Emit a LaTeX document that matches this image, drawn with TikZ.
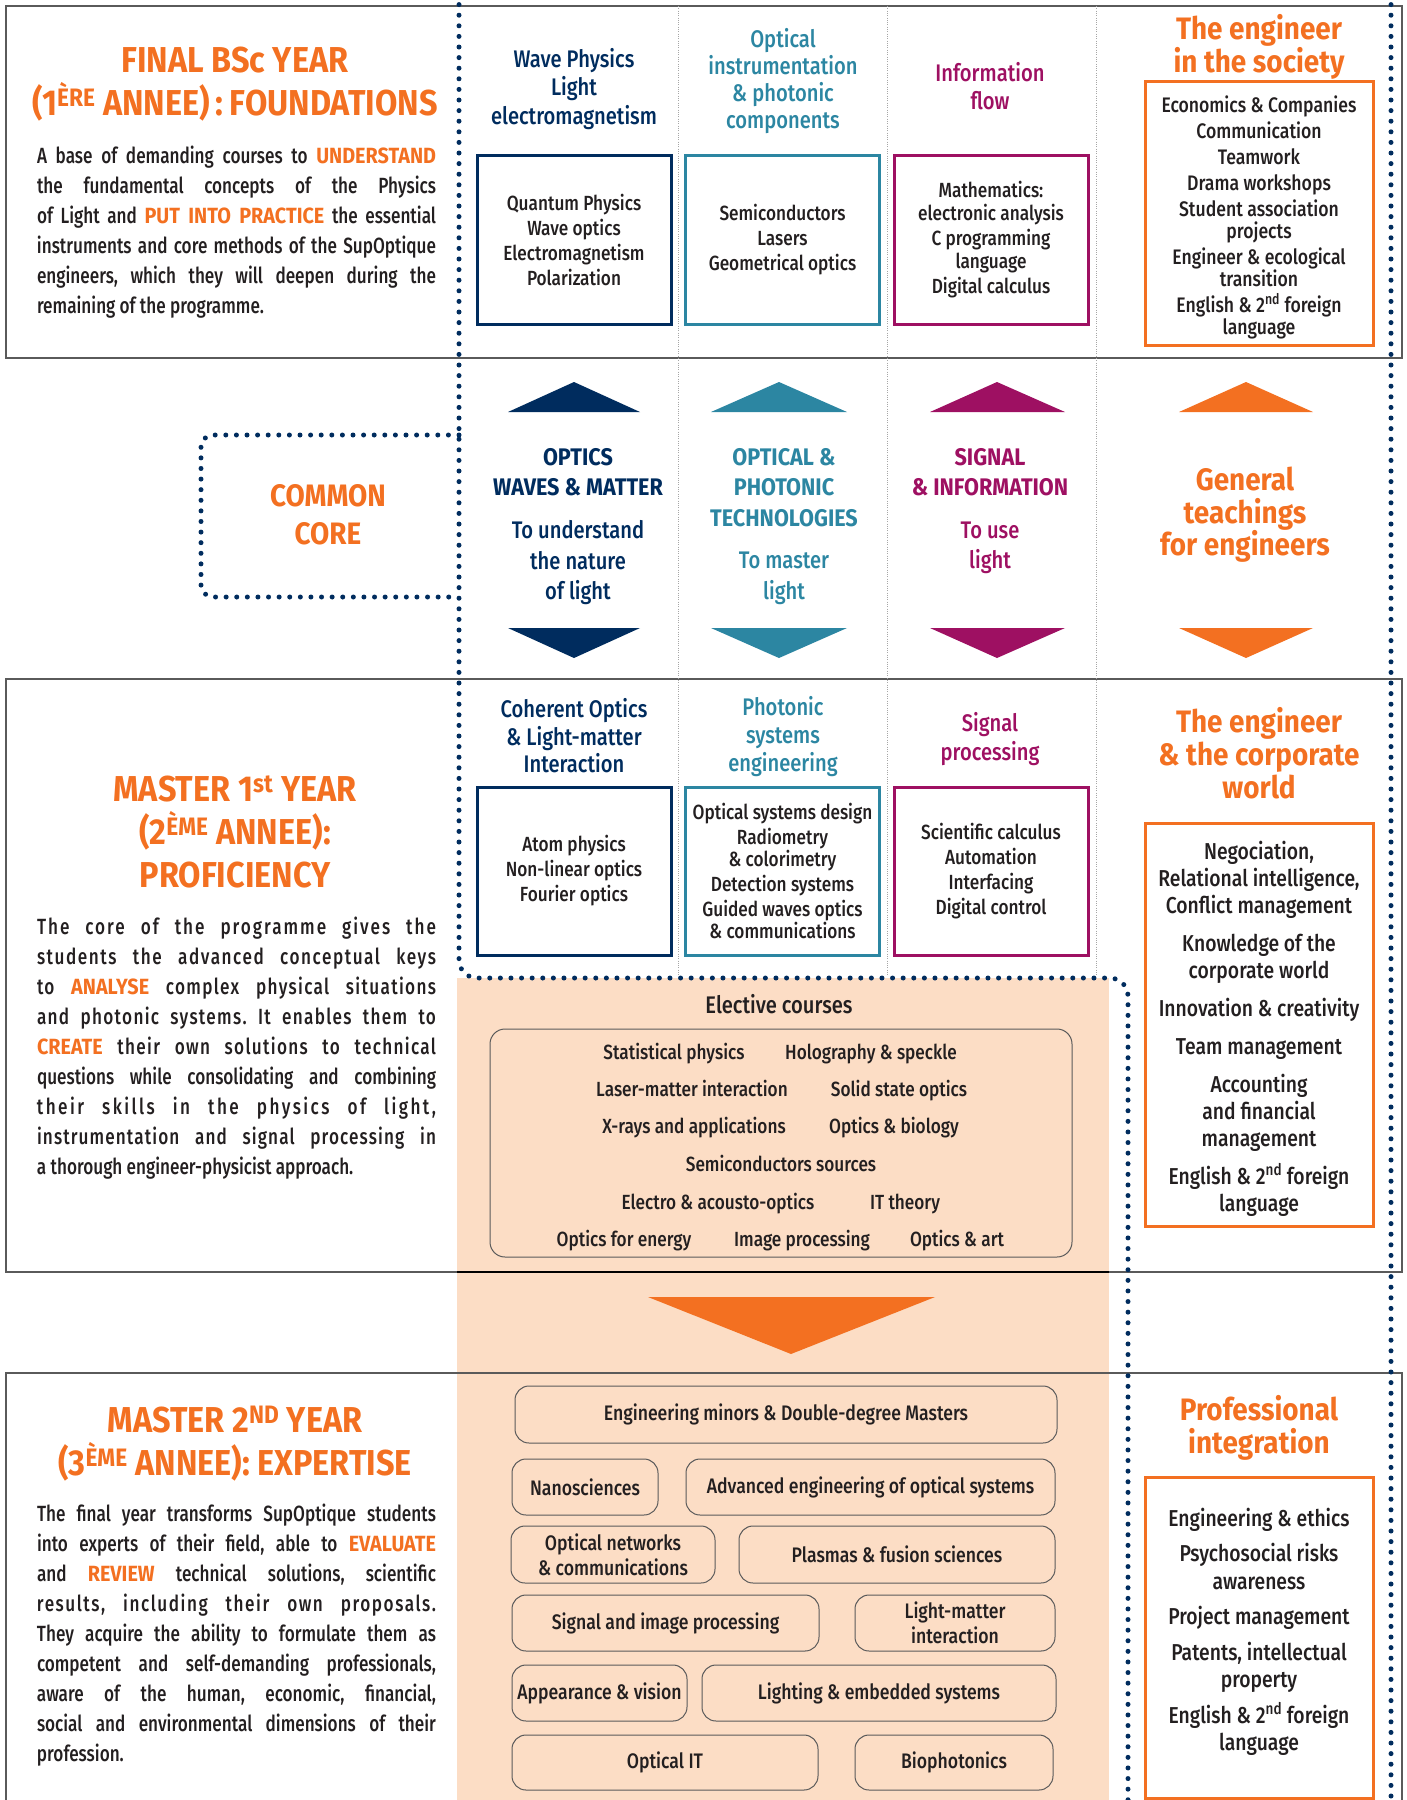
\documentclass[tikz,border=0pt]{standalone}
\usepackage{fontspec}
\setmainfont{Fira Sans}[UprightFont=* Medium, BoldFont=* Bold, FakeStretch=0.84]
\newfontfamily\parafont{Fira Sans}[UprightFont=* Medium, BoldFont=* Bold, FakeStretch=0.78]
\newfontfamily\titlefont{Fira Sans}[BoldFont=* Bold, FakeStretch=0.9]
\definecolor{cNavy}{RGB}{0,44,94}
\definecolor{cTeal}{RGB}{44,134,162}
\definecolor{cMag}{RGB}{158,16,98}
\definecolor{cOrg}{RGB}{243,112,33}
\definecolor{cPeach}{RGB}{252,221,197}
\definecolor{cTxt}{RGB}{35,31,32}
\definecolor{cLine}{RGB}{90,90,90}
\newcommand\fs[2]{\fontsize{#1}{#2}\selectfont}
\newcommand\jl[1]{\makebox[399pt][s]{#1}}
\newcommand\hl[1]{\textcolor{cOrg}{\titlefont\bfseries #1}}
\newcommand\lsp[2]{\makebox[399pt][s]{\addfontfeatures{LetterSpace=#1}#2}}
\begin{document}
\begin{tikzpicture}[x=1pt,y=-1pt,
  every node/.style={inner sep=0pt, outer sep=0pt, text=cTxt},
  sect/.style={draw=cLine, line width=1.3pt},
  colsep/.style={draw=gray!70, line width=0.7pt, dash pattern=on 1pt off 1.3pt},
  bluedots/.style={draw=cNavy, line width=5pt, line cap=round, dash pattern=on 0pt off 10.6pt},
  cbox/.style={draw=#1, line width=3pt, minimum width=194pt, minimum height=169pt, align=center, font=\fs{20.5}{25}},
  obox/.style={draw=cOrg, line width=3pt, minimum width=228pt},
  ebox/.style={draw=cLine, line width=1pt, rounded corners=14pt, align=center, font=\fs{21}{25}},
  ytitle/.style={align=center, text=cOrg, font=\titlefont\fs{36}{43}\bfseries},
  ctitle/.style={align=center, text=cOrg, font=\titlefont\fs{31}{33}\bfseries},
  hdr/.style={align=center, font=\fs{24}{28.5}},
  hdrb/.style={align=center, font=\titlefont\fs{24}{30}\bfseries},
  para/.style={align=left, anchor=north west, font=\parafont\fs{22}{30}\frenchspacing},
  otxt/.style={align=center},
  elec/.style={anchor=base, font=\fs{20.5}{24}},
]
\useasboundingbox (0,0) rectangle (1407,1800);
% peach background
\fill[cPeach] (457,978) rectangle (1109,1800);
% section frames
\draw[sect] (6,6) rectangle (1402,358);
\draw[sect] (6,679) rectangle (1402,1272);
\draw[draw=black, line width=1.6pt] (457,1272) -- (1109,1272);
\draw[sect] (6,1373) rectangle (1402,1812);
% column separators
\foreach \xx in {678,887,1096} \draw[colsep] (\xx,6) -- (\xx,975);
% dotted frames
\draw[bluedots, rounded corners=18pt] (459,-6) -- (459,978) -- (1128,978) -- (1128,1808);
\draw[bluedots, rounded corners=12pt] (459,435) -- (201,435) -- (201,597) -- (459,597);
\draw[bluedots] (1391,-6) -- (1391,1808);

% ---------- FINAL BSc YEAR ----------
\node[ytitle] (t1) at (235,84) {FINAL BSc YEAR\\(1\textsuperscript{ÈRE} ANNEE)\hspace{-2pt} :\hspace{-1pt} FOUNDATIONS};
\node[para] (p1) at (37,146) {\jl{A base of demanding courses to \hl{UNDERSTAND}}\\
\jl{the fundamental concepts of the Physics}\\
\jl{of Light and \hl{PUT INTO PRACTICE} the essential}\\
\jl{instruments and core methods of the SupOptique}\\
\jl{engineers, which they will deepen during the}\\
remaining of the programme.};

\node[hdr, text=cNavy] (h11) at (574,89) {Wave Physics\\Light\\electromagnetism};
\node[hdr, text=cTeal, font=\fs{24}{27}] (h12) at (783,81) {Optical\\instrumentation\\\& photonic\\components};
\node[hdr, text=cMag] (h13) at (990,86) {Information\\flow};
\node[ctitle] (h14) at (1259,47) {The engineer\\in the society};

\node[cbox=cNavy] (b11) at (574,239.5) {Quantum Physics\\Wave optics\\Electromagnetism\\Polarization};
\node[cbox=cTeal] (b12) at (782.5,239.5) {Semiconductors\\Lasers\\Geometrical optics};
\node[cbox=cMag, font=\fs{20.5}{23}] (b13) at (991,239.5) {Mathematics:\\electronic analysis\\[2pt]C programming\\language\\[2pt]Digital calculus};
\node[obox, minimum height=264pt] (b14) at (1259,213) {};
\node[otxt, font=\fs{21}{22}] (b14t) at (1259,217) {Economics \& Companies\\[4pt]Communication\\[4pt]Teamwork\\[4pt]Drama workshops\\[4pt]Student association\\projects\\[4pt]Engineer \& ecological\\transition\\[4pt]English \& 2\textsuperscript{nd} foreign\\language};

% ---------- COMMON CORE ----------
\node[align=center, text=cOrg, font=\titlefont\fs{31}{38}\bfseries] (cc) at (328,515) {COMMON\\CORE};

\fill[cNavy] (508,412) -- (640,412) -- (574,382) -- cycle;
\fill[cNavy] (508,628) -- (640,628) -- (574,658) -- cycle;
\fill[cTeal] (711,412) -- (847,412) -- (779,382) -- cycle;
\fill[cTeal] (711,628) -- (847,628) -- (779,658) -- cycle;
\fill[cMag] (930,412) -- (1065,412) -- (997,382) -- cycle;
\fill[cMag] (930,628) -- (1065,628) -- (997,658) -- cycle;
\fill[cOrg] (1179,412) -- (1313,412) -- (1246,382) -- cycle;
\fill[cOrg] (1179,628) -- (1313,628) -- (1246,658) -- cycle;

\node[hdrb, text=cNavy] (m1a) at (578,472) {OPTICS\\WAVES \& MATTER};
\node[hdr, text=cNavy, font=\fs{24}{30.5}] (m1b) at (578,563) {To understand\\the nature\\of light};
\node[hdrb, text=cTeal, font=\titlefont\fs{24}{30.5}\bfseries] (m2a) at (784,487.5) {OPTICAL \&\\PHOTONIC\\TECHNOLOGIES};
\node[hdr, text=cTeal, font=\fs{24}{31}] (m2b) at (784,578) {To master\\light};
\node[hdrb, text=cMag] (m3a) at (990,472) {SIGNAL\\\& INFORMATION};
\node[hdr, text=cMag, font=\fs{24}{30}] (m3b) at (990,548) {To use\\light};
\node[ctitle, font=\titlefont\fs{31}{32.5}\bfseries] (m4) at (1245,515) {General\\teachings\\for engineers};

% ---------- MASTER 1st YEAR ----------
\node[ytitle] (t2) at (235,832) {MASTER 1\textsuperscript{st} YEAR\\(2\textsuperscript{ÈME} ANNEE):\\PROFICIENCY};
\node[para] (p2) at (37,917) {\lsp{9}{The core of the programme gives the}\\
\lsp{7}{students the advanced conceptual keys}\\
\lsp{6}{to \hl{ANALYSE} complex physical situations}\\
\lsp{6}{and photonic systems. It enables them to}\\
\lsp{6}{\hl{CREATE} their own solutions to technical}\\
\jl{questions while consolidating and combining}\\
\lsp{11}{their skills in the physics of light,}\\
\lsp{5}{instrumentation and signal processing in}\\
a thorough engineer-physicist approach.};

\node[hdr, text=cNavy, font=\fs{24}{27.5}] (h21) at (574,736) {Coherent Optics\\\& Light-matter\\Interaction};
\node[hdr, text=cTeal, font=\fs{24}{28}] (h22) at (783,737) {Photonic\\systems\\engineering};
\node[hdr, text=cMag] (h23) at (990,739) {Signal\\processing};
\node[ctitle] (h24) at (1259,753) {The engineer\\\& the corporate\\world};

\node[cbox=cNavy, minimum height=168pt] (b21) at (574,871) {Atom physics\\Non-linear optics\\Fourier optics};
\node[cbox=cTeal, minimum height=168pt, font=\fs{20.5}{22}] (b22) at (782.5,871) {Optical systems design\\[3pt]Radiometry\\\& colorimetry\\[3pt]Detection systems\\[3pt]Guided waves optics\\\& communications};
\node[cbox=cMag, minimum height=168pt] (b23) at (991,871) {Scientific calculus\\Automation\\Interfacing\\Digital control};
\node[obox, minimum height=403pt] (b24) at (1259,1024.5) {};
\node[otxt, font=\fs{23}{27}] (b24t) at (1259,1029) {Negociation,\\Relational intelligence,\\Conflict management\\[11pt]Knowledge of the\\corporate world\\[11pt]Innovation \& creativity\\[11pt]Team management\\[11pt]Accounting\\and financial\\management\\[11pt]English \& 2\textsuperscript{nd} foreign\\language};

% elective courses
\node[font=\fs{24}{28}] (el) at (779,1004) {Elective courses};
\draw[draw=cLine, line width=1pt, rounded corners=15pt] (490,1029) rectangle (1072,1257);
\node[elec] (e11) at (674,1059) {Statistical physics};
\node[elec] (e12) at (871,1059) {Holography \& speckle};
\node[elec] (e21) at (692,1096) {Laser-matter interaction};
\node[elec] (e22) at (899,1096) {Solid state optics};
\node[elec] (e31) at (694,1133) {X-rays and applications};
\node[elec] (e32) at (894,1133) {Optics \& biology};
\node[elec] (e41) at (781,1171) {Semiconductors sources};
\node[elec] (e51) at (718,1209) {Electro \& acousto-optics};
\node[elec] (e52) at (905,1209) {IT theory};
\node[elec] (e61) at (624,1246) {Optics for energy};
\node[elec] (e62) at (802,1246) {Image processing};
\node[elec] (e63) at (957,1246) {Optics \& art};

% big arrow
\fill[cOrg] (648,1297) -- (935,1297) -- (791,1354) -- cycle;

% ---------- MASTER 2nd YEAR ----------
\node[ytitle] (t3) at (235,1444) {MASTER 2\textsuperscript{ND} YEAR\\(3\textsuperscript{ÈME} ANNEE): EXPERTISE};
\node[para] (p3) at (37,1504) {\jl{The final year transforms SupOptique students}\\
\jl{into experts of their field, able to \hl{EVALUATE}}\\
\jl{and \hl{REVIEW} technical solutions, scientific}\\
\lsp{7}{results, including their own proposals.}\\
\jl{They acquire the ability to formulate them as}\\
\jl{competent and self-demanding professionals,}\\
\jl{aware of the human, economic, financial,}\\
\jl{social and environmental dimensions of their}\\
profession.};

\node[ebox, minimum width=542pt, minimum height=57pt] (r1) at (786,1414.5) {Engineering minors \& Double-degree Masters};
\node[ebox, minimum width=146pt, minimum height=56pt] (r2) at (585,1487) {Nanosciences};
\node[ebox, minimum width=369pt, minimum height=56pt] (r3) at (870.5,1487) {Advanced engineering of optical systems};
\node[ebox, minimum width=204pt, minimum height=57pt] (r4) at (613,1554.5) {Optical networks\\\& communications};
\node[ebox, minimum width=316pt, minimum height=57pt] (r5) at (897,1554.5) {Plasmas \& fusion sciences};
\node[ebox, minimum width=307pt, minimum height=56pt] (r6) at (665.5,1623) {Signal and image processing};
\node[ebox, minimum width=200pt, minimum height=56pt] (r7) at (955,1623) {Light-matter\\interaction};
\node[ebox, minimum width=175pt, minimum height=56pt] (r8) at (599.5,1693) {Appearance \& vision};
\node[ebox, minimum width=354pt, minimum height=56pt] (r9) at (879,1693) {Lighting \& embedded systems};
\node[ebox, minimum width=306pt, minimum height=55pt] (r10) at (665,1762.5) {Optical IT};
\node[ebox, minimum width=198pt, minimum height=55pt] (r11) at (954,1762.5) {Biophotonics};

\node[ctitle] (h34) at (1259,1428) {Professional\\integration};
\node[obox, minimum height=321pt] (b34) at (1259,1637.5) {};
\node[otxt, font=\fs{23}{27.5}] (b34t) at (1259,1632) {Engineering \& ethics\\[8pt]Psychosocial risks\\awareness\\[8pt]Project management\\[8pt]Patents, intellectual\\property\\[8pt]English \& 2\textsuperscript{nd} foreign\\language};
\end{tikzpicture}
\end{document}
